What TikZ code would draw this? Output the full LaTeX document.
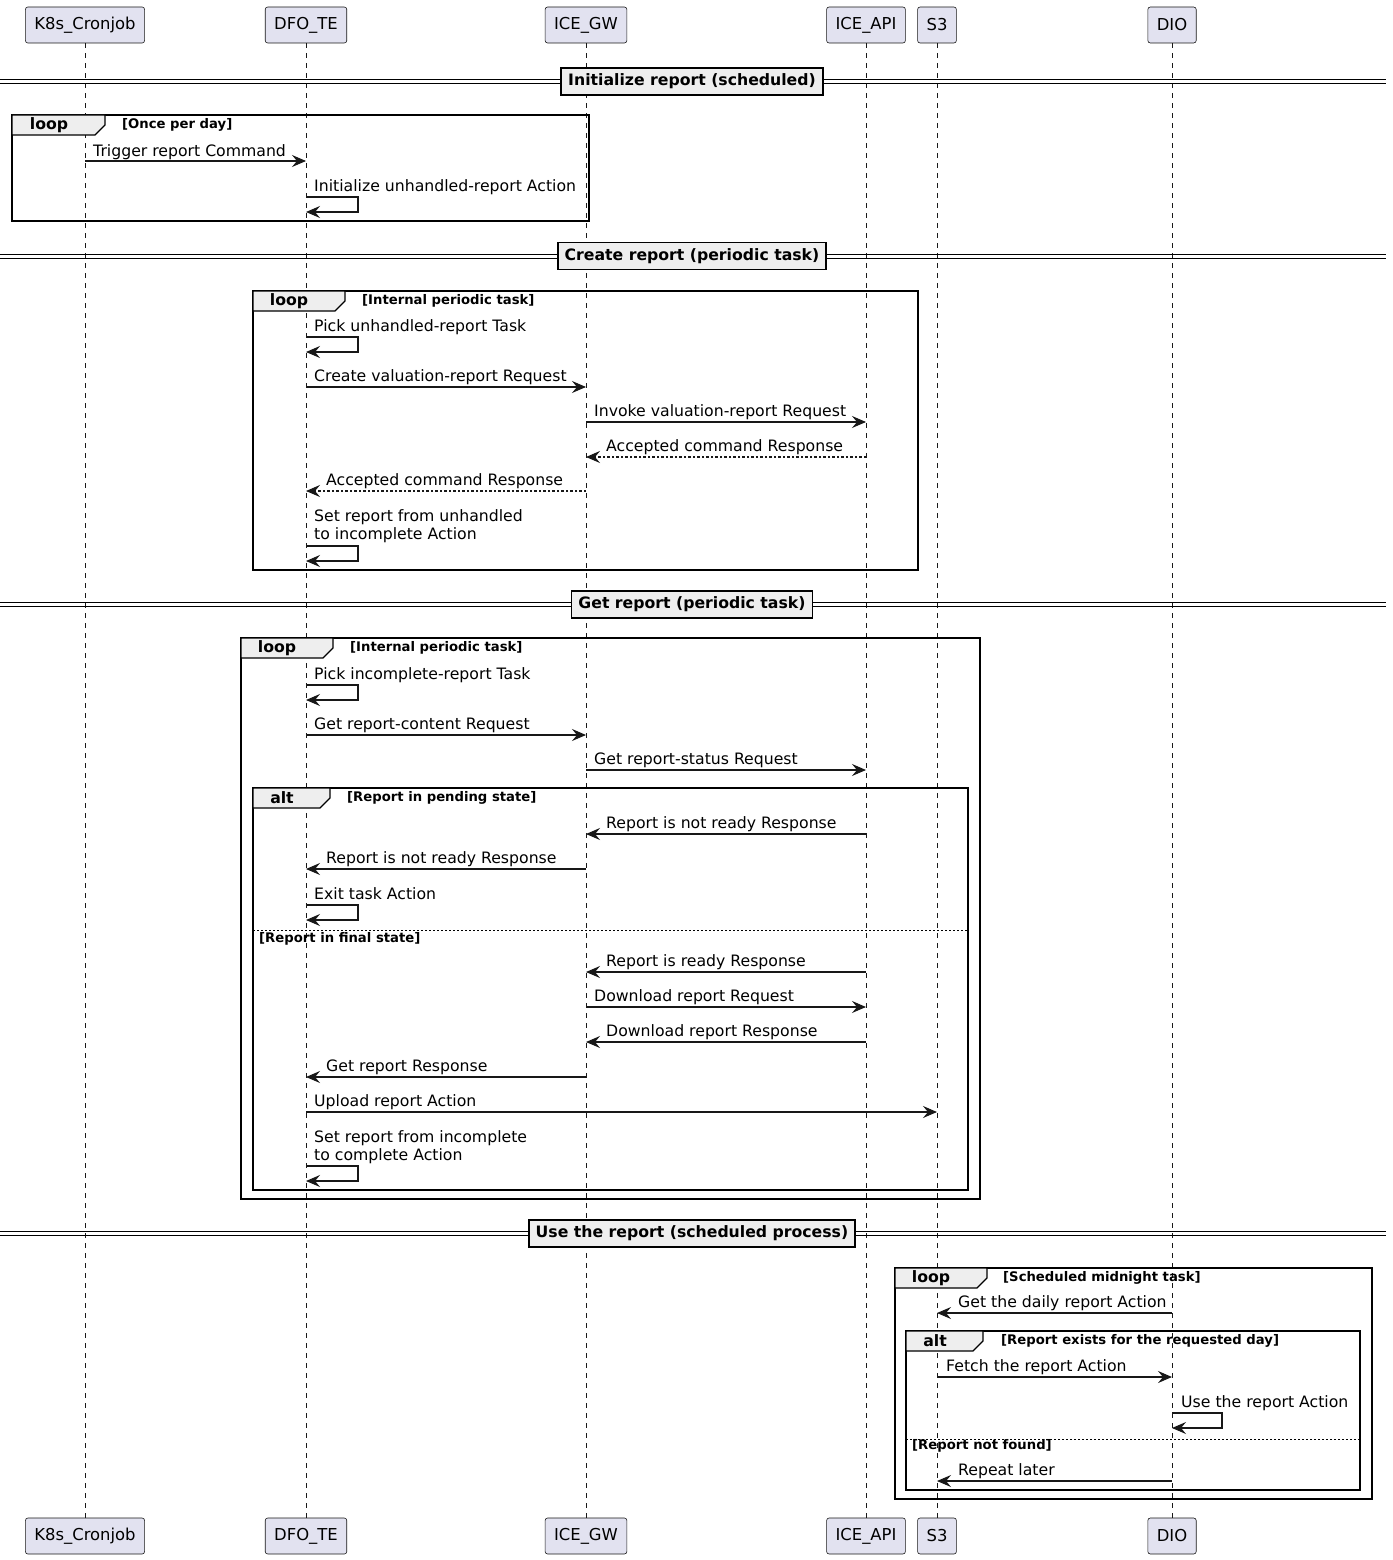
\documentclass[tikz,border=0pt]{standalone}
\usepackage{fontspec}
\setmainfont{DejaVu Sans}
\usetikzlibrary{arrows.meta}
\definecolor{umlpart}{HTML}{E2E2F0}
\definecolor{umlline}{HTML}{181818}
\definecolor{umltab}{HTML}{EEEEEE}
\begin{document}
\begin{tikzpicture}[x=1pt,y=-1pt,
  part/.style={draw=umlline,fill=umlpart,rounded corners=2.5pt,line width=0.6pt,minimum height=36pt,inner xsep=9pt,font=\fontsize{16.4}{19}\selectfont},
  life/.style={umlline,line width=0.6pt,dash pattern=on 5pt off 5pt},
  msg/.style={umlline,line width=1.1pt,-{Stealth[length=14pt,width=12pt,inset=5pt]}},
  reply/.style={msg,dash pattern=on 2.5pt off 2pt},
  mlbl/.style={font=\fontsize{15.7}{18}\selectfont,anchor=base west,inner sep=0pt},
  frm/.style={draw=black,line width=1.6pt},
  tabbox/.style={draw=black,fill=umltab,line width=1.2pt},
  tlbl/.style={font=\bfseries\fontsize{15.7}{18}\selectfont,inner sep=0pt},
  glbl/.style={font=\bfseries\fontsize{13.2}{15}\selectfont,anchor=west,inner sep=0pt},
  sepline/.style={line width=0.8pt,dash pattern=on 2pt off 2pt},
  divline/.style={line width=1pt},
  divbox/.style={draw=black,fill=umltab,line width=1.8pt,font=\bfseries\fontsize{15.7}{18}\selectfont,minimum height=27pt,inner xsep=7pt}]
\useasboundingbox (0,0) rectangle (1392,1560);
\node[part] (k8s) at (85,25) {K8s\_Cronjob};
\node[part] (dfo) at (306,25) {DFO\_TE};
\node[part] (gw) at (586,25) {ICE\_GW};
\node[part] (api) at (866,25) {ICE\_API};
\node[part] (s3) at (937,25) {S3};
\node[part] (dio) at (1172,25) {DIO};
\node[part] (k8sb) at (85,1536) {K8s\_Cronjob};
\node[part] (dfob) at (306,1536) {DFO\_TE};
\node[part] (gwb) at (586,1536) {ICE\_GW};
\node[part] (apib) at (866,1536) {ICE\_API};
\node[part] (s3b) at (937,1536) {S3};
\node[part] (diob) at (1172,1536) {DIO};
\draw[life] (k8s) -- (k8sb);
\draw[life] (dfo) -- (dfob);
\draw[life] (gw) -- (gwb);
\draw[life] (api) -- (apib);
\draw[life] (s3) -- (s3b);
\draw[life] (dio) -- (diob);
\draw[divline] (0,79.5) -- (1386,79.5) (0,83.5) -- (1386,83.5);
\node[divbox] (div1) at (692,81.5) {Initialize report (scheduled)};
\draw[frm] (12,115) rectangle (589,221);
\draw[tabbox] (12,115) -- (105,115) -- (105,125) -- (95,135) -- (12,135) -- cycle;
\node[tlbl] (loop1) at (49,125) {loop};
\node[glbl] (cond1) at (122,125) {[Once per day]};
\draw[msg] (k8s |- 0,161) -- (dfo |- 0,161);
\node[mlbl] (m1) at (93,156) {Trigger report Command};
\draw[msg] (dfo |- 0,197) -- ++(52,0) -- ++(0,15) -- ++(-52,0);
\node[mlbl] (m2) at (314,191) {Initialize unhandled-report Action};
\draw[divline] (0,254) -- (1386,254) (0,258) -- (1386,258);
\node[divbox] (div2) at (692,256) {Create report (periodic task)};
\draw[frm] (253,291) rectangle (918,570);
\draw[tabbox] (253,291) -- (345,291) -- (345,301) -- (335,311) -- (253,311) -- cycle;
\node[tlbl] (loop2) at (289,301) {loop};
\node[glbl] (cond2) at (362,301) {[Internal periodic task]};
\draw[msg] (dfo |- 0,337) -- ++(52,0) -- ++(0,15) -- ++(-52,0);
\node[mlbl] (m3) at (314,331) {Pick unhandled-report Task};
\draw[msg] (dfo |- 0,387) -- (gw |- 0,387);
\node[mlbl] (m4) at (314,381) {Create valuation-report Request};
\draw[msg] (gw |- 0,422) -- (api |- 0,422);
\node[mlbl] (m5) at (594,416) {Invoke valuation-report Request};
\draw[reply] (api |- 0,457) -- (gw |- 0,457);
\node[mlbl] (m6) at (606,451) {Accepted command Response};
\draw[reply] (gw |- 0,491) -- (dfo |- 0,491);
\node[mlbl] (m7) at (326,485) {Accepted command Response};
\draw[msg] (dfo |- 0,546) -- ++(52,0) -- ++(0,15) -- ++(-52,0);
\node[mlbl] (m8a) at (314,521) {Set report from unhandled};
\node[mlbl] (m8b) at (314,539) {to incomplete Action};
\draw[divline] (0,602.5) -- (1386,602.5) (0,606.5) -- (1386,606.5);
\node[divbox] (div3) at (692,604.5) {Get report (periodic task)};
\draw[frm] (241,638) rectangle (980,1199);
\draw[tabbox] (241,638) -- (333,638) -- (333,648) -- (323,658) -- (241,658) -- cycle;
\node[tlbl] (loop3) at (277,648) {loop};
\node[glbl] (cond3) at (350,648) {[Internal periodic task]};
\draw[msg] (dfo |- 0,685) -- ++(52,0) -- ++(0,15) -- ++(-52,0);
\node[mlbl] (m9) at (314,679) {Pick incomplete-report Task};
\draw[msg] (dfo |- 0,735) -- (gw |- 0,735);
\node[mlbl] (m10) at (314,729) {Get report-content Request};
\draw[msg] (gw |- 0,770) -- (api |- 0,770);
\node[mlbl] (m11) at (594,764) {Get report-status Request};
\draw[frm] (253,788) rectangle (968,1190);
\draw[tabbox] (253,788) -- (330,788) -- (330,798) -- (320,808) -- (253,808) -- cycle;
\node[tlbl] (alt1) at (282,798) {alt};
\node[glbl] (cond4) at (347,798) {[Report in pending state]};
\draw[msg] (api |- 0,834) -- (gw |- 0,834);
\node[mlbl] (m12) at (606,828) {Report is not ready Response};
\draw[msg] (gw |- 0,869) -- (dfo |- 0,869);
\node[mlbl] (m13) at (326,863) {Report is not ready Response};
\draw[msg] (dfo |- 0,905) -- ++(52,0) -- ++(0,15) -- ++(-52,0);
\node[mlbl] (m14) at (314,899) {Exit task Action};
\draw[sepline] (253,930) -- (968,930);
\node[glbl] (cond5) at (259,939) {[Report in final state]};
\draw[msg] (api |- 0,972) -- (gw |- 0,972);
\node[mlbl] (m15) at (606,966) {Report is ready Response};
\draw[msg] (gw |- 0,1007) -- (api |- 0,1007);
\node[mlbl] (m16) at (594,1001) {Download report Request};
\draw[msg] (api |- 0,1042) -- (gw |- 0,1042);
\node[mlbl] (m17) at (606,1036) {Download report Response};
\draw[msg] (gw |- 0,1077) -- (dfo |- 0,1077);
\node[mlbl] (m18) at (326,1071) {Get report Response};
\draw[msg] (dfo |- 0,1112) -- (s3 |- 0,1112);
\node[mlbl] (m19) at (314,1106) {Upload report Action};
\draw[msg] (dfo |- 0,1166) -- ++(52,0) -- ++(0,15) -- ++(-52,0);
\node[mlbl] (m20a) at (314,1142) {Set report from incomplete};
\node[mlbl] (m20b) at (314,1160) {to complete Action};
\draw[divline] (0,1231.5) -- (1386,1231.5) (0,1235.5) -- (1386,1235.5);
\node[divbox] (div4) at (692,1233.5) {Use the report (scheduled process)};
\draw[frm] (895,1268) rectangle (1372,1499);
\draw[tabbox] (895,1268) -- (987,1268) -- (987,1278) -- (977,1288) -- (895,1288) -- cycle;
\node[tlbl] (loop4) at (931,1278) {loop};
\node[glbl] (cond6) at (1003,1278) {[Scheduled midnight task]};
\draw[msg] (dio |- 0,1313) -- (s3 |- 0,1313);
\node[mlbl] (m21) at (958,1307) {Get the daily report Action};
\draw[frm] (906,1331) rectangle (1360,1490);
\draw[tabbox] (906,1331) -- (983,1331) -- (983,1341) -- (973,1351) -- (906,1351) -- cycle;
\node[tlbl] (alt2) at (935,1341) {alt};
\node[glbl] (cond7) at (1001,1341) {[Report exists for the requested day]};
\draw[msg] (s3 |- 0,1377) -- (dio |- 0,1377);
\node[mlbl] (m22) at (946,1371) {Fetch the report Action};
\draw[msg] (dio |- 0,1413) -- ++(50,0) -- ++(0,15) -- ++(-50,0);
\node[mlbl] (m23) at (1181,1407) {Use the report Action};
\draw[sepline] (906,1439) -- (1360,1439);
\node[glbl] (cond8) at (912,1446) {[Report not found]};
\draw[msg] (dio |- 0,1481) -- (s3 |- 0,1481);
\node[mlbl] (m24) at (958,1475) {Repeat later};
\end{tikzpicture}
\end{document}
